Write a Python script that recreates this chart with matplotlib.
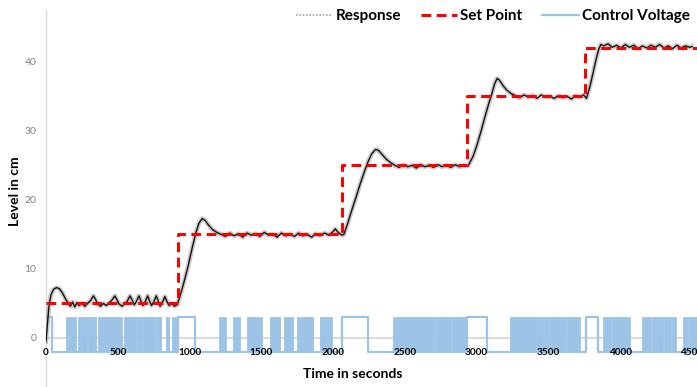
import matplotlib
matplotlib.use("Agg")
import matplotlib.pyplot as plt
from matplotlib.lines import Line2D

plt.rcParams['font.family'] = ['Lato', 'DejaVu Sans']

# ---- Tank level response (time in s, level in cm) ----
resp_t = [0, 8, 20, 35, 55, 75, 95, 115, 135, 155, 170, 185, 200, 215, 230, 250, 270, 290,
          310, 330, 345, 360, 380, 400, 420, 440, 460, 480, 495, 510, 530, 550, 565, 585,
          600, 615, 630, 648, 662, 675, 690, 708, 722, 735, 750, 768, 782, 795, 810, 828,
          842, 858, 875, 895, 912,
          930, 960, 990, 1020, 1045, 1065, 1088, 1110, 1130, 1160, 1190, 1220,
          1250, 1280, 1310, 1340, 1370, 1400, 1430, 1460, 1490, 1520, 1550, 1580, 1610,
          1640, 1670, 1700, 1730, 1760, 1790, 1820, 1850, 1880, 1910, 1940, 1970, 2000,
          2015, 2035, 2060,
          2075, 2100, 2130, 2160, 2190, 2220, 2245, 2270, 2295, 2315, 2340, 2370, 2400, 2430,
          2460, 2490, 2520, 2550, 2580, 2610, 2640, 2670, 2700, 2730, 2760, 2790, 2820,
          2850, 2880, 2910, 2940,
          2950, 2975, 3000, 3030, 3060, 3085, 3105, 3125, 3143, 3160, 3185, 3210, 3240, 3270,
          3300, 3330, 3360, 3390, 3420, 3450, 3480, 3510, 3540, 3570, 3600, 3630, 3660,
          3690, 3720, 3745, 3765,
          3790, 3811, 3830, 3850, 3865, 3885, 3915, 3945, 3975, 4005, 4035, 4065, 4095,
          4125, 4155, 4185, 4215, 4245, 4275, 4305, 4335, 4365, 4395, 4425, 4455, 4485, 4500]
resp_v = [-0.5, 1.5, 4.5, 6.3, 7.1, 7.3, 7.1, 6.5, 5.7, 5.0, 4.6, 5.2, 4.5, 5.1, 4.7, 5.0, 4.6, 5.0,
          5.4, 6.1, 5.6, 4.9, 4.6, 5.0, 4.7, 5.1, 5.5, 6.1, 5.5, 4.9, 4.6, 5.0, 5.3, 6.1,
          5.5, 4.8, 5.3, 6.1, 5.3, 4.7, 5.2, 6.1, 5.3, 4.7, 5.2, 6.1, 5.3, 4.6, 5.1, 6.0,
          5.3, 4.7, 5.0, 4.6, 4.8,
          5.8, 8.0, 10.4, 13.2, 15.3, 16.6, 17.3, 17.0, 16.4, 15.7, 15.3, 15.0,
          14.7, 15.2, 14.8, 15.1, 14.6, 15.2, 14.9, 15.1, 14.7, 15.3, 14.9, 15.0, 14.6,
          15.2, 14.8, 15.1, 14.7, 15.2, 14.8, 15.0, 14.6, 15.1, 14.8, 15.2, 14.9, 15.4,
          15.8, 15.3, 14.9,
          15.0, 16.5, 18.5, 20.4, 22.4, 24.2, 25.6, 26.7, 27.3, 27.2, 26.6, 25.9, 25.4, 25.0,
          24.7, 25.1, 24.8, 25.0, 24.6, 25.1, 24.8, 25.0, 24.7, 25.1, 24.8, 25.0, 24.7,
          25.1, 24.8, 25.0, 24.9,
          25.3, 26.3, 27.8, 29.9, 32.2, 34.0, 35.3, 36.8, 37.6, 37.3, 36.5, 35.9, 35.4, 35.1,
          34.8, 35.2, 34.9, 35.1, 34.7, 35.2, 34.9, 35.0, 34.7, 35.1, 34.8, 35.0, 34.6,
          35.1, 34.9, 35.2, 34.7,
          36.5, 38.4, 40.2, 41.8, 42.5, 42.3, 42.6, 42.1, 42.4, 42.0, 42.5, 42.1, 42.4,
          41.9, 42.3, 42.0, 42.4, 42.1, 42.5, 42.0, 42.3, 41.9, 42.4, 42.0, 42.3, 42.1, 42.2]

# ---- Set point changes ----
sp_change_t = [0, 917, 2059, 2936, 3758]
sp_level = [5, 15, 25, 35, 42]
t_end = 4535

# ---- Control voltage: segment edges and state (H = on, L = off, D = rapid switching) ----
cv_edges = [0, 40, 140, 210, 220, 285, 295, 350, 360, 530, 540, 628, 636, 670, 678, 768, 776,
            800, 835, 860, 880, 918, 1035, 1205, 1255, 1300, 1350, 1400, 1505, 1560, 1630,
            1660, 1722, 1746, 1862, 1908, 1990, 2063, 2245, 2420, 2705, 2713, 2822, 2830,
            2935, 3070, 3230, 3460, 3468, 3495, 3503, 3622, 3630, 3720, 3765, 3846, 3880,
            3935, 3943, 4070, 4155, 4214, 4222, 4295, 4303, 4353, 4361, 4392, 4437, 4470,
            4478, 4535]
cv_state = ['H', 'L', 'D', 'L', 'D', 'L', 'D', 'L', 'D', 'L', 'D', 'L', 'D', 'L', 'D', 'L',
            'D', 'L', 'D', 'L', 'D', 'H', 'L', 'D', 'L', 'D', 'L', 'D', 'L', 'D', 'L',
            'D', 'L', 'D', 'L', 'D', 'L', 'H', 'L', 'D', 'L', 'D', 'L', 'D',
            'H', 'L', 'D', 'L', 'D', 'L', 'D', 'L', 'D', 'L', 'H', 'L',
            'D', 'L', 'D', 'L', 'D', 'L', 'D', 'L', 'D', 'L', 'D', 'L', 'D',
            'L', 'D']
cv_high = 3.0
cv_low = -2.0

blue = '#9dc3e6'
axis_grey = '#d9d9d9'

fig = plt.figure(figsize=(6.97, 3.87), dpi=100)
ax = fig.add_axes([46 / 697, 0, 651 / 697, 377 / 387])
ax.set_xlim(0, t_end)
ax.set_ylim(-7.1, 47.5)

# control voltage: step trace plus filled blocks for rapid switching
level = {'H': cv_high, 'L': cv_low, 'D': cv_low}
cv_y = [level[s] for s in cv_state] + [level[cv_state[-1]]]
ax.step(cv_edges, cv_y, where='post', color=blue, lw=1.6, zorder=3)
dense = [(a, b - a) for a, b, s in zip(cv_edges[:-1], cv_edges[1:], cv_state) if s == 'D']
ax.broken_barh(dense, (cv_low, cv_high - cv_low), facecolors=blue, edgecolor=blue,
               linewidth=0.6, zorder=3)

# set point
sp_t = sp_change_t + [t_end]
sp_y = sp_level + [sp_level[-1]]
ax.step(sp_t, sp_y, where='post', color='#ff0000', lw=2.2, ls=(0, (3.2, 1.8)), zorder=5)

# response: soft grey band with a dark core
ax.plot(resp_t, resp_v, color='#8c8c8c', lw=3.4, alpha=0.45, zorder=4,
        solid_joinstyle='round')
ax.plot(resp_t, resp_v, color='#111111', lw=1.0, zorder=4)

# axes styling
for s in ('top', 'right'):
    ax.spines[s].set_visible(False)
ax.spines['left'].set_color(axis_grey)
ax.spines['left'].set_linewidth(1.0)
ax.spines['bottom'].set_position(('data', 0))
ax.spines['bottom'].set_color(axis_grey)
ax.spines['bottom'].set_linewidth(1.4)
ax.spines['bottom'].set_zorder(1)
ax.xaxis.set_zorder(6)

ax.set_xticks(range(0, 4501, 500))
ax.set_yticks([0, 10, 20, 30, 40])
ax.tick_params(axis='x', length=0, pad=7.5, labelsize=7.2)
for lab in ax.get_xticklabels():
    lab.set_fontweight('bold')
ax.tick_params(axis='y', length=0, pad=7, labelsize=7.5, labelcolor='#808080')

ax.set_xlabel('Time in seconds', fontsize=10, fontweight='bold')
ax.xaxis.set_label_coords((353 - 46) / 651, (387 - 368) / 377)
ax.set_ylabel('Level in cm', fontsize=10, fontweight='bold')
ax.yaxis.set_label_coords((21 - 46) / 651, (387 - 191) / 377)

handles = [Line2D([], [], color='#a6a6a6', lw=1.2, ls=(0, (1, 1))),
           Line2D([], [], color='#ff0000', lw=2.2, ls=(0, (3.2, 1.8))),
           Line2D([], [], color=blue, lw=1.6)]
ax.legend(handles, ['Response', 'Set Point', 'Control Voltage'], ncol=3,
          loc='center right', bbox_to_anchor=(690 / 697, 1 - 16 / 387),
          bbox_transform=fig.transFigure, frameon=False,
          prop={'weight': 'bold', 'size': 11}, handlelength=2.4,
          handletextpad=0.2, columnspacing=1.3, borderaxespad=0, borderpad=0)

fig.savefig('out.png', dpi=100)
